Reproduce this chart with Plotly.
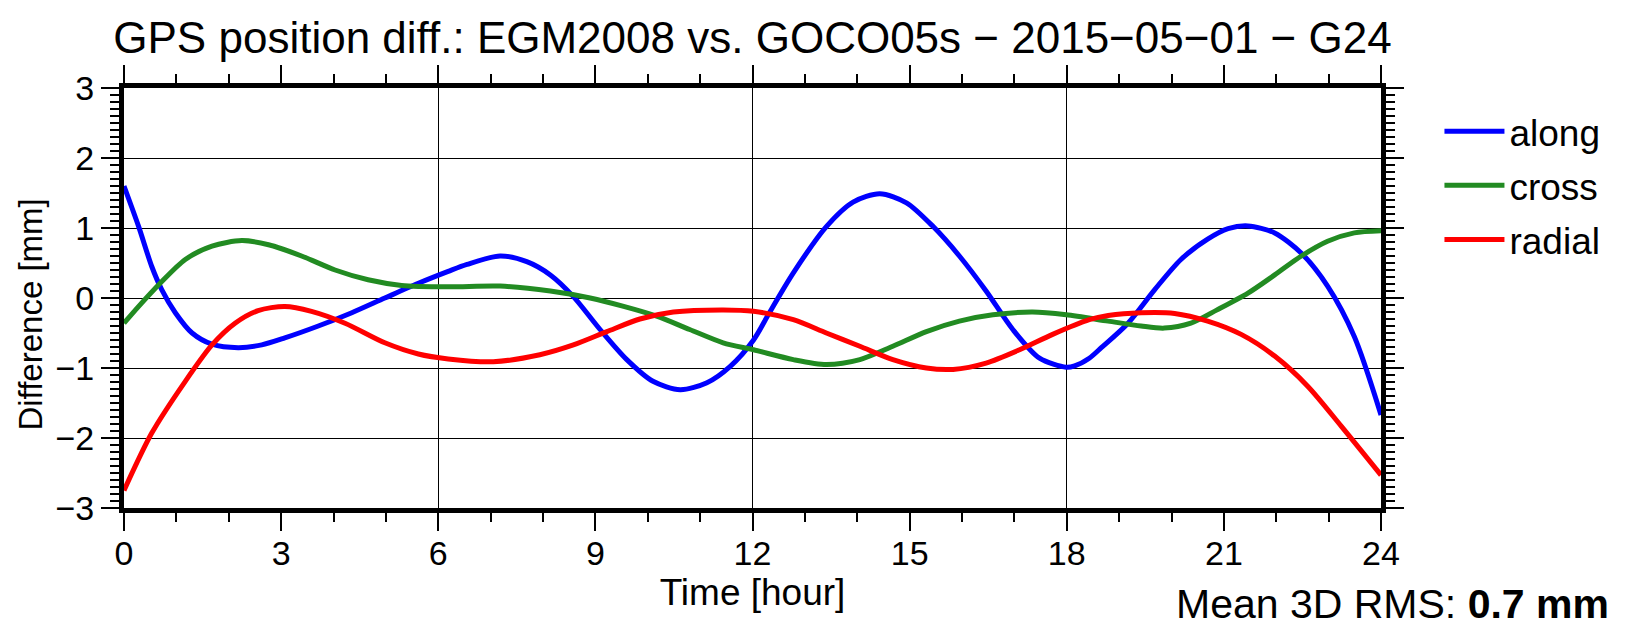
import plotly.graph_objects as go

# ---- data ----
along_t = [0.0, 0.28, 0.53, 0.72, 0.98, 1.3, 1.68, 2.18, 2.63, 3.07, 3.71, 4.35, 4.98, 5.62, 6.19,
           6.55, 7.18, 7.69, 8.14, 8.58, 9.09, 9.6, 10.1, 10.62, 11.13, 11.57, 12.02, 12.33,
           12.78, 13.41, 13.92, 14.43, 14.94, 15.45, 15.95, 16.46, 16.97, 17.48, 17.99, 18.15, 18.43,
           18.66, 19.17, 19.68, 20.18, 20.69, 21.08, 21.46, 21.97, 22.48, 22.98, 23.49, 24.0]
along_v = [1.60, 1.02, 0.45, 0.12, -0.21, -0.50, -0.66, -0.71, -0.67, -0.57, -0.40, -0.21, 0.0, 0.21, 0.38,
           0.48, 0.60, 0.52, 0.33, 0.02, -0.45, -0.88, -1.19, -1.31, -1.21, -0.98, -0.60, -0.20,
           0.36, 1.02, 1.37, 1.49, 1.36, 1.02, 0.60, 0.10, -0.45, -0.86, -0.99, -0.97, -0.86,
           -0.71, -0.36, 0.12, 0.55, 0.84, 0.99, 1.03, 0.93, 0.64, 0.17, -0.55, -1.67]

cross_t = [0.0, 0.28, 0.69, 1.17, 1.68, 2.25, 2.76, 3.39, 4.03, 4.66, 5.3, 6.19,
           7.18, 8.14, 8.9, 9.54, 10.17, 10.8, 11.44, 12.02, 12.78, 13.41, 14.05, 14.68,
           15.32, 15.95, 16.59, 17.35, 17.99, 18.79, 19.42, 19.86, 20.37, 20.87, 21.46,
           21.97, 22.48, 22.98, 23.49, 24.0]
cross_v = [-0.36, -0.12, 0.21, 0.55, 0.74, 0.82, 0.76, 0.60, 0.40, 0.26, 0.18, 0.16,
           0.17, 0.10, 0.0, -0.12, -0.26, -0.45, -0.64, -0.74, -0.88, -0.95, -0.88, -0.69,
           -0.48, -0.33, -0.24, -0.20, -0.24, -0.33, -0.40, -0.43, -0.36, -0.17, 0.07,
           0.33, 0.60, 0.81, 0.93, 0.96]

radial_t = [0.0, 0.53, 1.17, 1.68, 2.12, 2.56, 3.07, 3.58, 4.22, 4.98, 5.62, 6.19,
            7.05, 7.94, 8.58, 9.22, 9.85, 10.49, 11.44, 12.02, 12.78, 13.41, 14.05, 14.68,
            15.32, 15.83, 16.46, 17.1, 17.73, 18.43, 18.79, 19.42, 20.06, 20.69, 21.33,
            21.97, 22.6, 23.24, 24.0]
radial_v = [-2.75, -1.93, -1.19, -0.67, -0.36, -0.18, -0.12, -0.19, -0.36, -0.64, -0.80, -0.87,
            -0.91, -0.81, -0.67, -0.48, -0.30, -0.20, -0.17, -0.19, -0.31, -0.50, -0.69, -0.88,
            -1.0, -1.02, -0.93, -0.74, -0.52, -0.31, -0.25, -0.21, -0.22, -0.33, -0.52,
            -0.83, -1.26, -1.83, -2.53]

series = [
    ("along", along_t, along_v, "#0000FF"),
    ("cross", cross_t, cross_v, "#228B22"),
    ("radial", radial_t, radial_v, "#FF0000"),
]

FONT = "Liberation Sans, Arial, Helvetica, sans-serif"

fig = go.Figure()
for name, t, v, c in series:
    fig.add_trace(go.Scatter(x=t, y=v, mode="lines", name=name, legendgroup=name,
                             line=dict(color=c, width=5, shape="spline", smoothing=0.8),
                             xaxis="x", yaxis="y"))

# invisible trace to carry the 6-hour grid axis
fig.add_trace(go.Scatter(x=[0, 24], y=[0, 0], mode="lines", line=dict(width=0),
                         showlegend=False, hoverinfo="skip", xaxis="x2", yaxis="y"))

axis_common = dict(
    showline=True, linewidth=5, linecolor="black", mirror="ticks",
    ticks="outside", ticklen=18, tickwidth=2, tickcolor="black",
    tickfont=dict(family=FONT, size=34, color="black"),
    zeroline=False,
)

fig.update_layout(
    width=1633, height=629,
    margin=dict(l=123.5, r=251.5, t=88, b=121, autoexpand=False),
    paper_bgcolor="white", plot_bgcolor="white",
    font=dict(family=FONT, color="black"),
    title=dict(text="GPS position diff.: EGM2008 vs. GOCO05s \u2212 2015\u221205\u221201 \u2212 G24",
               x=(123.5 + 1381.5) / 2 / 1633, xanchor="center",
               y=1 - 38 / 629, yanchor="middle", yref="container",
               font=dict(family=FONT, size=44, color="black")),
    xaxis=dict(range=[0, 24], dtick=3, tick0=0, showgrid=False,
               minor=dict(dtick=1, ticklen=9, tickwidth=2, tickcolor="black", ticks="outside", showgrid=False),
               title=dict(text="Time [hour]", font=dict(family=FONT, size=37), standoff=0),
               ticklabelstandoff=-7,
               **axis_common),
    xaxis2=dict(range=[0, 24], dtick=6, tick0=0, overlaying="x", showgrid=True,
                gridcolor="black", gridwidth=1, showticklabels=False, ticks="",
                showline=False, zeroline=False, side="bottom"),
    yaxis=dict(range=[-3, 3], dtick=1, tick0=0, showgrid=True, gridcolor="black", gridwidth=1,
               minor=dict(dtick=0.1, ticklen=9, tickwidth=2, tickcolor="black", ticks="outside", showgrid=False),
               **axis_common),
    legend=dict(x=(1440 - 123.5) / 1258, xanchor="left", y=(298.3 - 101) / 420 + 0.5, yanchor="top",
                font=dict(family=FONT, size=37, color="black"),
                bgcolor="rgba(0,0,0,0)", tracegroupgap=3, itemwidth=60),
    showlegend=True,
    annotations=[
        dict(text="Difference [mm]", xref="paper", yref="paper", textangle=-90,
             x=(29 - 123.5) / 1258, xanchor="center",
             y=(508 - 315) / 420, yanchor="middle", showarrow=False,
             font=dict(family=FONT, size=33, color="black")),
        dict(text="Mean 3D RMS: <b>0.7 mm</b>", xref="paper", yref="paper",
             x=(1612 - 123.5) / 1258, xanchor="right",
             y=-(629 - 508) / 420, yanchor="bottom", showarrow=False,
             font=dict(family=FONT, size=41, color="black")),
    ],
)

fig.write_html("out.html")
